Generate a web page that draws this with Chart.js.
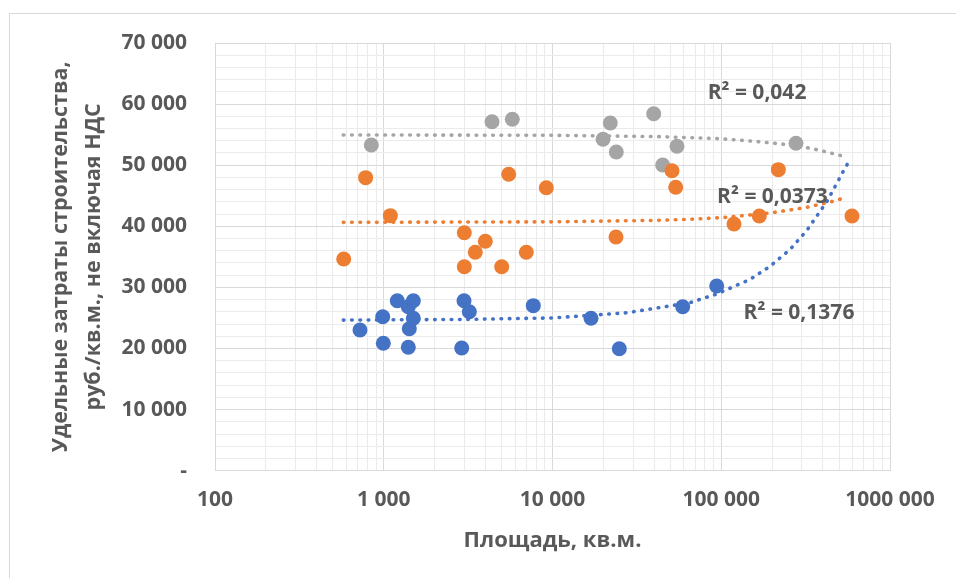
<!DOCTYPE html>
<html><head><meta charset="utf-8">
<script src="https://cdn.jsdelivr.net/npm/chart.js@4"></script>
<style>
html,body{margin:0;padding:0;background:#fff;overflow:hidden;width:956px;height:578px}
#frame{position:absolute;left:9px;top:13px;width:1000px;height:1000px;border:1px solid #d9d9d9;box-sizing:border-box}
#c{position:absolute;left:0;top:0}
</style></head><body>
<div id="frame"></div>
<canvas id="c" width="956" height="578"></canvas>
<script>
// ---- data ----
const blueX = [723, 986, 994, 1203, 1398, 1497, 1497, 1417, 1398, 2990, 3214, 2897, 7694, 16911, 24880, 59090, 93980];
const blueY = [23030, 25200, 20850, 27820, 26840, 27820, 24940, 23240, 20200, 27820, 26020, 20080, 27010, 24940, 19970, 26840, 30230];

const orangeX = [781, 1094, 579, 3002, 3998, 3486, 6993, 3002, 5000, 5501, 9190, 23785, 51080, 53720, 217900, 168100, 119000, 595300];
const orangeY = [47960, 41740, 34650, 38950, 37550, 35750, 35750, 33390, 33390, 48510, 46320, 38250, 49100, 46380, 49270, 41690, 40380, 41690];

const grayX = [844, 4380, 5778, 22000, 19930, 23880, 39790, 54680, 44980, 277300];
const grayY = [53310, 57120, 57510, 56910, 54240, 52160, 58430, 53090, 50030, 53590];

// trendlines (linear trend, read as points along the drawn curve)
const blueTrendX = [576, 3000, 10000, 27540, 65270, 93970, 148100, 194500, 255500, 320900, 421500, 528900, 573900];
const blueTrendY = [24650, 24760, 25000, 25850, 27500, 28920, 31300, 33450, 36200, 39300, 44000, 49000, 50740];
const orangeTrendX = [576, 10000, 43350, 65270, 101800, 196000, 320900, 453000, 553800];
const orangeTrendY = [40650, 40730, 40980, 41150, 41420, 42200, 43100, 44050, 44750];
const grayTrendX = [576, 10000, 43350, 100000, 163900, 257300, 340000, 421500, 553800];
const grayTrendY = [54950, 54890, 54670, 54330, 53870, 53320, 52760, 52150, 51340];

const r2Labels = ['R² = 0,1376', 'R² = 0,0373', 'R² = 0,042'];
const r2AnchorX = [288900, 201200, 162900];
const r2AnchorY = [25810, 44800, 61820];

const xMajorValues = [100, 1000, 10000, 100000, 1000000];
const xTickLabels = ['100', '1 000', '10 000', '100 000', '1000 000'];
const yTickLabels = ['-', '10 000', '20 000', '30 000', '40 000', '50 000', '60 000', '70 000'];

const xTitle = 'Площадь, кв.м.';
const yTitle = ['Удельные затраты строительства,', 'руб./кв.м., не включая НДС'];

// ---- styling ----
const FONT = "'Open Sans', 'Noto Sans', sans-serif";
const TEXT = '#595959';
const MAJOR = '#d9d9d9';
const MINOR = '#ebebeb';
const BLUE = '#4472C4', ORANGE = '#ED7D31', GRAY = '#A5A5A5';

const pts = (xs, ys) => xs.map((x, i) => ({x, y: ys[i]}));

// gridline positions on the log axis (1..9 per decade)
const xGridValues = [];
for (let d = 0; d < xMajorValues.length - 1; d++) {
  for (let m = 1; m <= 9; m++) xGridValues.push(xMajorValues[d] * m);
}
xGridValues.push(xMajorValues[xMajorValues.length - 1]);

const scatterDs = (label, xs, ys, color) => ({
  label, data: pts(xs, ys), backgroundColor: color, borderColor: color,
  pointRadius: 7.5, pointHoverRadius: 7.5, borderWidth: 0, showLine: false, order: 2
});
const trendDs = (label, xs, ys, color) => ({
  label, data: pts(xs, ys), borderColor: color, backgroundColor: color,
  showLine: true, pointRadius: 0, pointHoverRadius: 0, borderWidth: 3.6,
  borderDash: [0.6, 7.7], borderCapStyle: 'round', tension: 0, fill: false, order: 1
});

const r2Plugin = {
  id: 'r2labels',
  afterDatasetsDraw(chart) {
    const {ctx, scales: {x, y}} = chart;
    ctx.save();
    ctx.font = `bold 21px ${FONT}`;
    ctx.fillStyle = TEXT;
    ctx.textAlign = 'center';
    ctx.textBaseline = 'middle';
    r2Labels.forEach((t, i) => {
      ctx.fillText(t, x.getPixelForValue(r2AnchorX[i]), y.getPixelForValue(r2AnchorY[i]));
    });
    ctx.restore();
  }
};

new Chart(document.getElementById('c'), {
  type: 'scatter',
  data: {
    datasets: [
      scatterDs('Ряд1', blueX, blueY, BLUE),
      scatterDs('Ряд2', orangeX, orangeY, ORANGE),
      scatterDs('Ряд3', grayX, grayY, GRAY),
      trendDs('Линейная (Ряд1)', blueTrendX, blueTrendY, BLUE),
      trendDs('Линейная (Ряд2)', orangeTrendX, orangeTrendY, ORANGE),
      trendDs('Линейная (Ряд3)', grayTrendX, grayTrendY, GRAY)
    ]
  },
  options: {
    responsive: false,
    animation: false,
    devicePixelRatio: 1,
    layout: {padding: {top: 43, right: 66, left: 0, bottom: 0}},
    plugins: {legend: {display: false}, tooltip: {enabled: false}},
    scales: {
      x: {
        type: 'logarithmic', min: 100, max: 1000000,
        afterBuildTicks: (scale) => { scale.ticks = xGridValues.map(v => ({value: v})); },
        afterFit: (scale) => { scale.height = 107.3; },
        grid: {
          drawTicks: false,
          color: (c) => (c.tick && xMajorValues.includes(c.tick.value)) ? MAJOR : MINOR
        },
        border: {display: true, color: MAJOR},
        ticks: {
          autoSkip: false, maxRotation: 0, padding: 17, color: TEXT,
          font: {family: FONT, size: 21, weight: 'bold'},
          callback: (v) => { const i = xMajorValues.indexOf(v); return i >= 0 ? xTickLabels[i] : ''; }
        },
        title: {
          display: true, text: xTitle, color: TEXT,
          font: {family: FONT, size: 22, weight: 'bold', lineHeight: 1.2},
          padding: {top: 0, bottom: 24}
        }
      },
      y: {
        type: 'linear', min: 0, max: 70000,
        afterFit: (scale) => { scale.width = 215; },
        grid: {
          drawTicks: false,
          color: (c) => (c.tick && c.tick.value % 10000 === 0) ? MAJOR : MINOR
        },
        border: {display: true, color: MAJOR},
        ticks: {
          stepSize: 2000, autoSkip: false, padding: 28, color: TEXT,
          font: {family: FONT, size: 21, weight: 'bold'},
          callback: (v) => v % 10000 === 0 ? yTickLabels[v / 10000] : ''
        },
        title: {
          display: true, text: yTitle, color: TEXT,
          font: {family: FONT, size: 21.5, weight: 'bold', lineHeight: 1.5},
          padding: {top: 45, bottom: 0}
        }
      }
    }
  },
  plugins: [r2Plugin]
});
</script>
</body></html>
